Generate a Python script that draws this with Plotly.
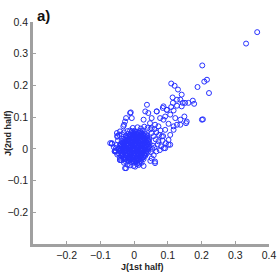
import plotly.graph_objects as go

# values in thousandths (x = J 1st half, y = J 2nd half)
core_pts = [
    (-24,-41),(-16,-39),(-8,-42),(0,-40),(8,-38),(16,-41),
    (-32,-31),(-25,-33),(-17,-30),(-9,-32),(-1,-34),(7,-31),(15,-33),(22,-30),(28,-32),
    (-37,-23),(-30,-25),(-22,-22),(-14,-26),(-6,-24),(2,-22),(10,-25),(18,-23),(26,-24),(33,-22),
    (-41,-15),(-34,-17),(-26,-14),(-18,-16),(-10,-18),(-2,-15),(6,-17),(14,-14),(22,-16),(30,-18),(37,-15),
    (-44,-7),(-36,-9),(-28,-6),(-20,-8),(-12,-10),(-4,-7),(4,-9),(12,-6),(20,-8),(28,-10),(36,-7),(41,-9),
    (-45,1),(-38,-1),(-30,2),(-22,0),(-14,-2),(-6,1),(2,-1),(10,2),(18,0),(26,-2),(34,1),(42,-1),
    (-43,9),(-36,7),(-28,10),(-20,8),(-12,6),(-4,9),(4,7),(12,10),(20,8),(28,6),(36,9),(44,7),
    (-41,15),(-33,17),(-25,14),(-17,16),(-9,18),(-1,15),(7,17),(15,14),(23,16),(31,18),(39,15),(46,17),
    (-37,25),(-29,23),(-21,26),(-13,24),(-5,22),(3,25),(11,23),(19,26),(27,24),(35,22),(43,25),
    (-32,31),(-24,33),(-16,30),(-8,32),(0,34),(8,31),(16,33),(24,30),(32,32),(40,34),(45,31),
    (-25,41),(-17,39),(-9,42),(-1,40),(7,38),(15,41),(23,39),(31,42),(39,40),
    (-17,47),(-9,49),(-1,46),(7,48),(15,50),(23,47),(31,49),(36,46),
    (-7,55),(1,57),(9,54),(17,56),(25,58),
    (-20,-36),(-12,-35),(-4,-37),(4,-36),(12,-35),(20,-37),
    (-29,-28),(-21,-27),(-13,-29),(-5,-28),(3,-27),(11,-29),(19,-28),(27,-27),
    (-34,-20),(-26,-19),(-18,-21),(-10,-20),(-2,-19),(6,-21),(14,-20),(22,-19),(30,-21),
    (-38,-12),(-30,-11),(-22,-13),(-14,-12),(-6,-11),(2,-13),(10,-12),(18,-11),(26,-13),(34,-12),
    (-40,-4),(-32,-3),(-24,-5),(-16,-4),(-8,-3),(0,-5),(8,-4),(16,-3),(24,-5),(32,-4),(38,-3),
    (-41,4),(-33,5),(-25,3),(-17,4),(-9,5),(-1,3),(7,4),(15,5),(23,3),(31,4),(39,5),
    (-39,12),(-31,13),(-23,11),(-15,12),(-7,13),(1,11),(9,12),(17,13),(25,11),(33,12),(41,13),
    (-35,20),(-27,21),(-19,19),(-11,20),(-3,21),(5,19),(13,20),(21,21),(29,19),(37,20),(43,21),
    (-29,28),(-21,29),(-13,27),(-5,28),(3,29),(11,27),(19,28),(27,29),(35,27),(41,28),
    (-21,36),(-13,37),(-5,35),(3,36),(11,37),(19,35),(27,36),(35,37),
    (-13,44),(-5,45),(3,43),(11,44),(19,45),(27,43),
    (-3,52),(5,53),(13,51),(21,52),
]

ring_pts = [
    (-66,16),(-54,2),(-58,-8),(-50,-18),(-52,12),(-48,26),(-47,-14),(-71,18),(-50,38),(-44,44),
    (-42,-28),(-38,-36),(-30,-44),(-24,-61),(-20,-50),(-12,-52),(-2,-54),(8,-48),(16,-46),(28,-54),
    (22,-44),(-55,-5),(-60,5),(-42,-35),(-56,-8),(-27,-61),(3,-56),(13,-51),(62,-40),
    (50,-10),(54,0),(58,-20),(62,-45),(52,-30),(48,-38),(56,10),(60,4),(70,14),(80,8),(94,18),
    (102,13),(88,2),(76,-4),(66,-8),(72,24),(64,30),(84,26),(58,40),(52,50),(66,52),(74,44),
    (86,40),(78,58),(60,62),(48,62),(40,66),(30,70),(20,64),(10,68),(-4,66),(-12,58),(-20,56),
    (-30,52),(-36,46),(92,2),(107,13),(102,28),(82,39),(107,44),(117,60),(92,60),(52,65),
    (28,92),(47,81),(52,97),(62,76),(77,97),(72,71),(33,118),(42,113),(67,118),(-12,113),(-7,97),
    (-27,86),(-32,71),(-51,50),(-42,55),(-66,18),(-56,-8),(-42,-35),
]

tail_pts = [
    (365,368),(332,332),(202,263),(216,218),(208,212),(188,195),(222,176),(204,93),
    (154,81),(149,102),(110,206),(120,199),(130,187),(141,171),(114,162),(127,155),
    (137,155),(115,145),(127,136),(144,145),(151,145),(161,145),(174,152),(178,142),
    (85,129),(97,123),(110,132),(117,121),(141,134),(107,108),(122,97),(92,102),
    (87,92),(102,79),(137,76),(117,71),(67,118),(38,139),(-10,115),(-24,97),(-30,76),
    (-50,41),(87,134),(97,123),(127,76),(137,92),(156,86),(201,92),
]

all_pts = core_pts + ring_pts + tail_pts
xs = [p[0] / 1000 for p in all_pts]
ys = [p[1] / 1000 for p in all_pts]

tick_vals = [-0.2, -0.1, 0, 0.1, 0.2, 0.3, 0.4]
tick_text = ["\u22120.2", "\u22120.1", "0", "0.1", "0.2", "0.3", "0.4"]
FONT = "Liberation Sans, Arial"

fig = go.Figure(go.Scatter(
    x=xs, y=ys, mode="markers",
    marker=dict(symbol="circle-open", size=5, color="rgb(40,50,255)", line=dict(width=1, color="rgb(40,50,255)")),
    hoverinfo="skip",
))

axis_common = dict(
    showgrid=False, zeroline=False, showline=True, linecolor="#a0a0a0", linewidth=2.5,
    ticks="inside", ticklen=3, tickcolor="#a0a0a0", tickwidth=1,
    tickvals=tick_vals, ticktext=tick_text, automargin=False,
    tickfont=dict(family=FONT, size=10.5, color="#222"),
)

fig.update_layout(
    width=277, height=277,
    margin=dict(l=33, r=8, t=22, b=33, autoexpand=False),
    plot_bgcolor="white", paper_bgcolor="white",
    showlegend=False,
    xaxis=dict(range=[-0.3, 0.4], **axis_common),
    yaxis=dict(range=[-0.3, 0.4], **axis_common),
    annotations=[
        dict(text="<b>a)</b>", xref="paper", yref="paper", x=0.008, y=1.0, xanchor="left", yanchor="bottom",
             showarrow=False, font=dict(family=FONT, size=15, color="#111"), yshift=-4),
        dict(text="<b>J(1st half)</b>", xref="paper", yref="paper", x=0.464, y=-0.104, xanchor="center", yanchor="middle",
             showarrow=False, font=dict(family=FONT, size=9, color="#222")),
        dict(text="<b>J(2nd half)</b>", xref="paper", yref="paper", x=-0.106, y=0.5, xanchor="center", yanchor="middle",
             textangle=-90, showarrow=False, font=dict(family=FONT, size=9, color="#222")),
    ],
)

fig.write_html("out.html", config={"displayModeBar": False},
               post_script="document.body.style.margin='0px';")
